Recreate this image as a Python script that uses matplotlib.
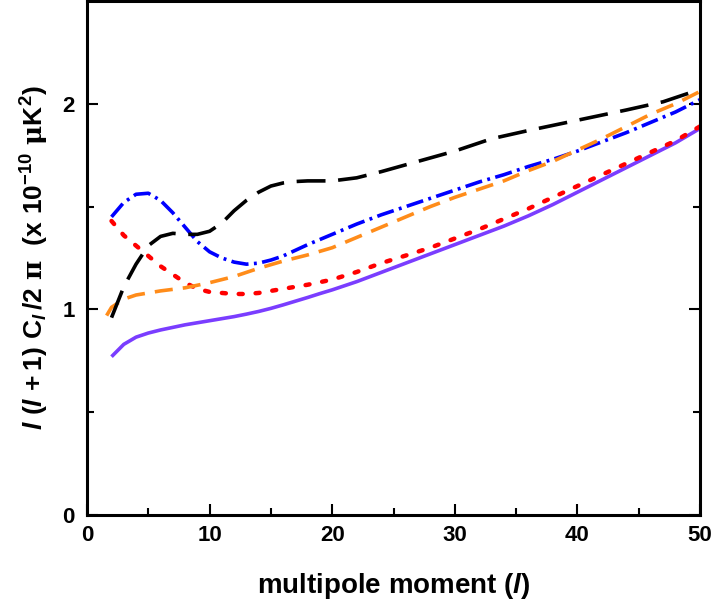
import matplotlib
matplotlib.use("Agg")
import matplotlib.pyplot as plt

plt.rcParams['font.family'] = ['Liberation Sans', 'DejaVu Sans']
plt.rcParams['font.weight'] = 'bold'
plt.rcParams['mathtext.fontset'] = 'custom'
plt.rcParams['mathtext.rm'] = 'Liberation Sans:bold'
plt.rcParams['mathtext.it'] = 'Liberation Sans:italic:bold'
plt.rcParams['mathtext.bf'] = 'Liberation Sans:bold'
plt.rcParams['mathtext.sf'] = 'DejaVu Serif'

# ---- data ----
l_purple = [2, 3, 4, 5, 6, 8, 10, 11, 12, 13, 14, 15, 16, 17, 18, 19, 20, 22, 24, 26, 28, 30,
            32, 34, 36, 38, 40, 42, 44, 46, 48, 50]
c_purple = [0.77, 0.83, 0.865, 0.885, 0.90, 0.925, 0.945, 0.955, 0.965, 0.977, 0.99, 1.005,
            1.022, 1.04, 1.058, 1.077, 1.095, 1.135, 1.18, 1.225, 1.27, 1.315, 1.36, 1.405,
            1.455, 1.51, 1.57, 1.63, 1.69, 1.75, 1.81, 1.88]

l_red = [2, 3, 4, 5, 6, 7, 8, 9, 10, 11, 12, 13, 14, 16, 18, 20, 22, 24, 26, 28, 30, 32, 34,
         36, 38, 40, 42, 44, 46, 48, 50]
c_red = [1.43, 1.36, 1.31, 1.26, 1.21, 1.17, 1.13, 1.10, 1.085, 1.08, 1.075, 1.075, 1.08,
         1.10, 1.12, 1.145, 1.182, 1.225, 1.262, 1.30, 1.345, 1.39, 1.44, 1.49, 1.545, 1.60,
         1.655, 1.71, 1.765, 1.82, 1.89]

l_blue = [2, 3, 4, 5, 6, 7, 8, 9, 10, 11, 12, 13, 14, 15, 16, 18, 20, 22, 24, 26, 28, 30, 32,
          34, 36, 38, 40, 42, 44, 46, 48, 50]
c_blue = [1.45, 1.52, 1.56, 1.565, 1.53, 1.47, 1.40, 1.33, 1.28, 1.25, 1.23, 1.22, 1.225,
          1.24, 1.26, 1.315, 1.365, 1.415, 1.46, 1.50, 1.54, 1.58, 1.62, 1.655, 1.695, 1.73,
          1.77, 1.815, 1.86, 1.91, 1.96, 2.02]

l_orange = [1.6, 2, 3, 4, 6, 8, 10, 12, 14, 16, 18, 20, 22, 24, 26, 28, 30, 32, 34, 36, 38,
            40, 42, 44, 46, 48, 50]
c_orange = [0.97, 1.01, 1.05, 1.07, 1.09, 1.105, 1.13, 1.16, 1.20, 1.235, 1.265, 1.30,
            1.35, 1.40, 1.45, 1.50, 1.545, 1.585, 1.625, 1.675, 1.72, 1.775, 1.83, 1.89,
            1.95, 2.00, 2.06]

l_black = [2, 3, 4, 5, 6, 7, 8, 9, 10, 11, 12, 13, 14, 15, 16, 17, 18, 20, 22, 24, 27, 30,
           33, 36, 40, 44, 47, 50]
c_black = [0.96, 1.11, 1.22, 1.31, 1.355, 1.37, 1.365, 1.365, 1.38, 1.42, 1.48, 1.53, 1.57,
           1.60, 1.615, 1.622, 1.625, 1.625, 1.64, 1.67, 1.72, 1.77, 1.83, 1.87, 1.92, 1.97,
           2.01, 2.07]

x_ticks = [0, 10, 20, 30, 40, 50]
y_ticks = [0, 1, 2]

fig = plt.figure(figsize=(7.11, 6.03), dpi=100)
ax = fig.add_axes([87/711, 1 - 515/603, (700-87)/711, 514/603])

lw = 2.6
ax.plot(l_purple, c_purple, color='#7a3dff', lw=lw, solid_capstyle='butt')
ax.plot(l_red, c_red, color='#ff0000', lw=3.2, linestyle=(0, (0.9, 2.9)), dash_capstyle='round')
ax.plot(l_blue, c_blue, color='#0000ff', lw=lw, linestyle=(0, (4.8, 1.5, 0.8, 1.5)))
ax.plot(l_orange, c_orange, color='#ff8c1a', lw=lw, linestyle=(0, (5.0, 2.8)))
ax.plot(l_black, c_black, color='black', lw=lw, linestyle=(0, (8.0, 3.5)))

ax.set_xlim(0, 50)
ax.set_ylim(0, 2.5)
ax.set_xticks(x_ticks)
ax.set_yticks(y_ticks)
ax.set_xticks([5, 15, 25, 35, 45], minor=True)
ax.set_yticks([0.5, 1.5], minor=True)
ax.tick_params(which='both', direction='in', right=True, top=False, width=1.5,
               labelsize=16)
ax.tick_params(axis='x', which='major', pad=7)
ax.tick_params(axis='y', which='major', pad=9)
ax.tick_params(which='major', length=8)
ax.tick_params(which='minor', length=5)
for lab in ax.get_xticklabels() + ax.get_yticklabels():
    lab.set_fontweight('bold')
for s in ax.spines.values():
    s.set_linewidth(2.2)

ax.set_xlabel(r'multipole moment ($\mathit{l}$)', fontsize=20, fontweight='bold', labelpad=18)
ax.set_ylabel(r'$\mathit{l}\ (\mathit{l}\,+1)\ \mathrm{C}_{\mathit{l}}\,/2\ \mathsf{\pi}\ \ (\mathrm{x\ 10}^{\mathrm{-10}}\ \mathsf{\mu}\mathrm{K}^{\mathrm{2}})$',
              fontsize=19, labelpad=8)

fig.savefig('out.png', dpi=100)
